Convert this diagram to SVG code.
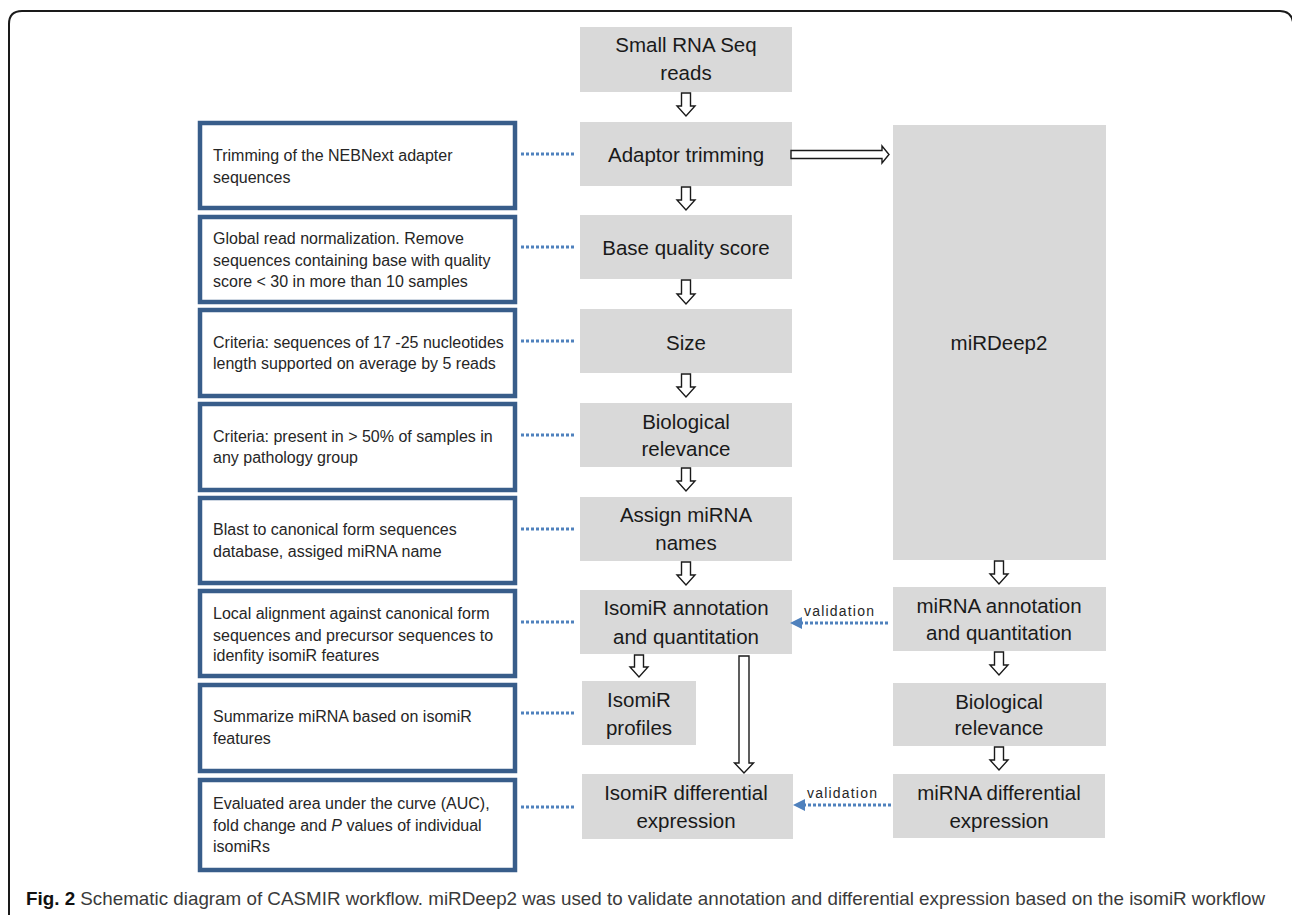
<svg xmlns="http://www.w3.org/2000/svg" width="1292" height="915" viewBox="0 0 1292 915">
<style>
.note rect{fill:#fff;stroke:#385d8a;stroke-width:4.5}
.note text{font-family:"Liberation Sans",Arial,sans-serif;font-size:16px;fill:#262626}
.step rect{fill:#d9d9d9}
.step text{font-family:"Liberation Sans",Arial,sans-serif;font-size:20.5px;fill:#1a1a1a;text-anchor:middle}
.hollow{fill:#fff;stroke:#1a1a1a;stroke-width:1.4;stroke-linejoin:miter}
.dot{stroke:#4f81bd;stroke-width:3;stroke-dasharray:3 2;fill:none}
.tri{fill:#4f81bd}
.lbl{font-family:"Liberation Sans",Arial,sans-serif;font-size:14px;fill:#262626;letter-spacing:1.2px}
</style>
<rect width="1292" height="915" fill="#fff"/>
<path d="M9,915 V24 Q9,11 22,11 H1280 Q1291,11 1293,22" fill="none" stroke="#1a1a1a" stroke-width="2"/>

<g id="note1" class="note"><rect x="200" y="123" width="315" height="85"/>
<text x="213" y="161">Trimming of the NEBNext adapter</text><text x="213" y="183">sequences</text></g>
<g id="note2" class="note"><rect x="200" y="217" width="315" height="85"/>
<text x="213" y="244">Global read normalization. Remove</text><text x="213" y="266">sequences containing base with quality</text><text x="213" y="287">score &lt; 30 in more than 10 samples</text></g>
<g id="note3" class="note"><rect x="200" y="310" width="315" height="86"/>
<text x="213" y="348">Criteria: sequences of 17 -25 nucleotides</text><text x="213" y="369">length supported on average by 5 reads</text></g>
<g id="note4" class="note"><rect x="200" y="404" width="315" height="86"/>
<text x="213" y="442">Criteria: present in &gt; 50% of samples in</text><text x="213" y="463">any pathology group</text></g>
<g id="note5" class="note"><rect x="200" y="498" width="315" height="85"/>
<text x="213" y="535">Blast to canonical form sequences</text><text x="213" y="557">database, assiged miRNA name</text></g>
<g id="note6" class="note"><rect x="200" y="591" width="315" height="85"/>
<text x="213" y="619">Local alignment against canonical form</text><text x="213" y="641">sequences and precursor sequences to</text><text x="213" y="661">idenfity isomiR features</text></g>
<g id="note7" class="note"><rect x="200" y="685" width="315" height="86"/>
<text x="213" y="722">Summarize miRNA based on isomiR</text><text x="213" y="744">features</text></g>
<g id="note8" class="note"><rect x="200" y="780" width="315" height="90"/>
<text x="213" y="809">Evaluated area under the curve (AUC),</text><text x="213" y="831">fold change and <tspan font-style="italic">P</tspan> values of individual</text><text x="213" y="852">isomiRs</text></g>

<g id="reads" class="step"><rect x="580" y="27" width="212" height="65"/>
<text x="686" y="52">Small RNA Seq</text><text x="686" y="80">reads</text></g>
<g id="adaptor" class="step"><rect x="580" y="122" width="212" height="64"/>
<text x="686" y="162">Adaptor trimming</text></g>
<g id="basequal" class="step"><rect x="580" y="215" width="212" height="64"/>
<text x="686" y="255">Base quality score</text></g>
<g id="size" class="step"><rect x="580" y="309" width="212" height="64"/>
<text x="686" y="350">Size</text></g>
<g id="bio1" class="step"><rect x="580" y="403" width="212" height="64"/>
<text x="686" y="429">Biological</text><text x="686" y="456">relevance</text></g>
<g id="assign" class="step"><rect x="580" y="497" width="212" height="64"/>
<text x="686" y="522">Assign miRNA</text><text x="686" y="550">names</text></g>
<g id="isoannot" class="step"><rect x="580" y="590" width="212" height="64"/>
<text x="686" y="615">IsomiR annotation</text><text x="686" y="644">and quantitation</text></g>
<g id="isoprof" class="step"><rect x="582" y="681" width="114" height="64"/>
<text x="639" y="707">IsomiR</text><text x="639" y="735">profiles</text></g>
<g id="isodiff" class="step"><rect x="582" y="774" width="211" height="65"/>
<text x="686" y="800">IsomiR differential</text><text x="686" y="828">expression</text></g>

<g id="mirdeep" class="step"><rect x="893" y="125" width="213" height="435"/>
<text x="999" y="350">miRDeep2</text></g>
<g id="mirannot" class="step"><rect x="893" y="587" width="213" height="64"/>
<text x="999" y="613">miRNA annotation</text><text x="999" y="640">and quantitation</text></g>
<g id="bio2" class="step"><rect x="893" y="683" width="213" height="63"/>
<text x="999" y="709">Biological</text><text x="999" y="735">relevance</text></g>
<g id="mirdiff" class="step"><rect x="893" y="774" width="212" height="64"/>
<text x="999" y="800">miRNA differential</text><text x="999" y="828">expression</text></g>

<g id="connectors">
<path class="hollow" d="M681.5,93 H690.5 V106 H695 L686,116 L677,106 H681.5 Z"/>
<path class="hollow" d="M681.5,187 H690.5 V200 H695 L686,210 L677,200 H681.5 Z"/>
<path class="hollow" d="M681.5,280 H690.5 V294 H695 L686,304 L677,294 H681.5 Z"/>
<path class="hollow" d="M681.5,374 H690.5 V387 H695 L686,397 L677,387 H681.5 Z"/>
<path class="hollow" d="M681.5,468 H690.5 V481 H695 L686,491 L677,481 H681.5 Z"/>
<path class="hollow" d="M681.5,562 H690.5 V575 H695 L686,585 L677,575 H681.5 Z"/>
<path class="hollow" d="M634.5,655 H643.5 V667 H648 L639,677 L630,667 H634.5 Z"/>
<path class="hollow" d="M739,656 H749 V763 H753.5 L744,773 L734.5,763 H739 Z"/>
<path class="hollow" d="M994.5,561 H1003.5 V574 H1008 L999,584 L990,574 H994.5 Z"/>
<path class="hollow" d="M994.5,652 H1003.5 V665 H1008 L999,675 L990,665 H994.5 Z"/>
<path class="hollow" d="M994.5,747 H1003.5 V760 H1008 L999,770 L990,760 H994.5 Z"/>
<path class="hollow" d="M791,150.5 H882 V146 L889,154.5 L882,163 V158.5 H791 Z"/>
<line class="dot" x1="521" y1="154" x2="576" y2="154"/>
<line class="dot" x1="521" y1="247" x2="576" y2="247"/>
<line class="dot" x1="521" y1="341" x2="576" y2="341"/>
<line class="dot" x1="521" y1="435" x2="576" y2="435"/>
<line class="dot" x1="521" y1="529" x2="576" y2="529"/>
<line class="dot" x1="521" y1="622" x2="576" y2="622"/>
<line class="dot" x1="521" y1="713" x2="576" y2="713"/>
<line class="dot" x1="521" y1="807" x2="576" y2="807"/>
<line class="dot" x1="888" y1="623" x2="802" y2="623"/>
<path class="tri" d="M790,623 L802,617 L802,629 Z"/>
<text class="lbl" x="804" y="616">validation</text>
<line class="dot" x1="891" y1="805" x2="805" y2="805"/>
<path class="tri" d="M793,805 L805,799 L805,811 Z"/>
<text class="lbl" x="807" y="798">validation</text>
</g>

<text x="26" y="905" font-family="'Liberation Sans',Arial,sans-serif" font-size="19" fill="#3a3a3a" textLength="1239" lengthAdjust="spacingAndGlyphs"><tspan font-weight="bold" fill="#111">Fig. 2</tspan> Schematic diagram of CASMIR workflow. miRDeep2 was used to validate annotation and differential expression based on the isomiR workflow</text>
</svg>
